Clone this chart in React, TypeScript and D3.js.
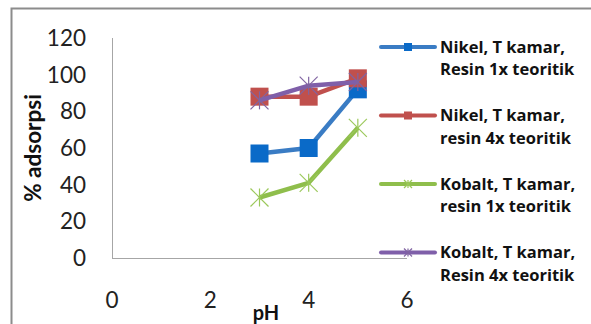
import React from "react";
import * as d3 from "d3";

const phValues = [3, 4, 5];
const nikelResin1x = [57, 60, 92];
const nikelResin4x = [88, 88, 98];
const kobaltResin1x = [33, 41, 71];
const kobaltResin4x = [86, 94, 96];

const seriesNames = [
  ["Nikel, T kamar,", "Resin 1x teoritik"],
  ["Nikel, T kamar,", "resin 4x teoritik"],
  ["Kobalt, T kamar,", "resin 1x teoritik"],
  ["Kobalt, T kamar,", "Resin 4x teoritik"],
];
const seriesColors = ["#3a7cc4", "#c0504d", "#8fbe4c", "#7f5fa9"];
const markerColors = ["#0a6ac8", "#c0504d", "#9bc85a", "#8064a2"];
const markerKinds = ["square", "square", "star", "star"];

const yTicks = [0, 20, 40, 60, 80, 100, 120];
const xTicks = [0, 2, 4, 6];

const FONT = "Lato, 'Open Sans', sans-serif";
const LEGEND_FONT = "'Open Sans', Lato, sans-serif";

function Marker({ kind, cx, cy, color, size }: { kind: string; cx: number; cy: number; color: string; size: number }) {
  if (kind === "square") {
    return <rect x={cx - size / 2} y={cy - size / 2} width={size} height={size} fill={color} />;
  }
  const r = size / 2;
  return (
    <g stroke={color} strokeWidth={1.2}>
      <line x1={cx - r} y1={cy - r} x2={cx + r} y2={cy + r} />
      <line x1={cx - r} y1={cy + r} x2={cx + r} y2={cy - r} />
      <line x1={cx} y1={cy - r} x2={cx} y2={cy + r} />
    </g>
  );
}

export default function App() {
  const x = d3.scaleLinear().domain([0, 6]).range([112, 407]);
  const y = d3.scaleLinear().domain([0, 120]).range([258, 38]);
  const data = [nikelResin1x, nikelResin4x, kobaltResin1x, kobaltResin4x];
  const line = d3
    .line<[number, number]>()
    .x((d) => x(d[0]))
    .y((d) => y(d[1]));

  const drawOrder = [0, 2, 1, 3];

  return (
    <svg
      width={591}
      height={324}
      style={{ position: "absolute", left: 0, top: 0, fontVariantLigatures: "none" }}
      fontFamily={FONT}
    >
      <rect width={591} height={324} fill="#fff" />
      {/* chart frame */}
      <path d="M11.5,330 V8.5 H600" fill="none" stroke="#8c8c8c" strokeWidth={2} />

      {/* axes */}
      <line x1={112.5} y1={38} x2={112.5} y2={258} stroke="#a6a6a6" strokeWidth={1} />
      <line x1={112} y1={258.5} x2={x(6)} y2={258.5} stroke="#a6a6a6" strokeWidth={1} />

      {yTicks.map((t) => (
        <text key={t} x={86} y={y(t)} dy="0.36em" textAnchor="end" fontSize={22.5} fill="#222">
          {t}
        </text>
      ))}
      {xTicks.map((t) => (
        <text key={t} x={x(t)} y={300} dy="0.36em" textAnchor="middle" fontSize={22.5} fill="#222">
          {t}
        </text>
      ))}

      <text x={266} y={313} dy="0.36em" textAnchor="middle" fontSize={20} fontWeight="bold" fill="#111">
        pH
      </text>
      <text
        transform={`translate(33,148) rotate(-90)`}
        textAnchor="middle"
        dy="0.36em"
        fontSize={22.5}
        fontWeight="bold"
        fill="#111"
      >
        % adsorpsi
      </text>

      {drawOrder.map((i) => {
        const pts = phValues.map((p, j) => [p, data[i][j]] as [number, number]);
        return (
          <g key={i}>
            <path d={line(pts) || ""} fill="none" stroke={seriesColors[i]} strokeWidth={4.5} strokeLinejoin="round" />
            {pts.map((d, j) => (
              <Marker
                key={j}
                kind={markerKinds[i]}
                cx={x(d[0])}
                cy={y(d[1])}
                color={markerColors[i]}
                size={18}
              />
            ))}
          </g>
        );
      })}

      {/* legend */}
      {seriesNames.map((name, i) => {
        const ly = 47 + i * 68.5;
        return (
          <g key={i}>
            <line x1={381} y1={ly} x2={435} y2={ly} stroke={seriesColors[i]} strokeWidth={4} strokeLinecap="round" />
            <Marker kind={markerKinds[i]} cx={408} cy={ly} color={markerColors[i]} size={8} />
            <text x={440} y={ly} dy="0.36em" fontFamily={LEGEND_FONT} fontSize={16.5} fontWeight="bold" fill="#111">
              {name[0]}
            </text>
            <text x={440} y={ly + 22.5} dy="0.36em" fontFamily={LEGEND_FONT} fontSize={16.5} fontWeight="bold" fill="#111">
              {name[1]}
            </text>
          </g>
        );
      })}
    </svg>
  );
}
